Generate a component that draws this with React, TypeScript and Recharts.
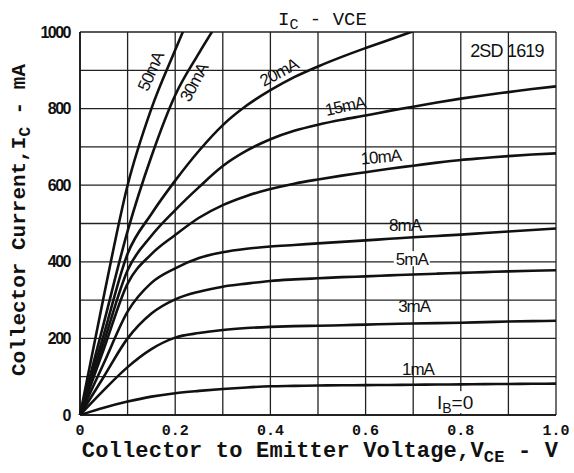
import { LineChart, Line, XAxis, YAxis, CartesianGrid, ReferenceDot } from 'recharts'

// V_CE grid (V)
const vce = [0, 0.05, 0.1, 0.15, 0.2, 0.25, 0.3, 0.35, 0.4, 0.45, 0.5, 0.55, 0.6, 0.65, 0.7, 0.75, 0.8, 0.85, 0.9, 0.95, 1.0]

// I_C (mA) for each base current
const ib1 = [0, 19, 35, 48, 57, 63, 68, 72, 75, 76, 77, 77.5, 78, 78.5, 79, 79.5, 80, 80.5, 81, 81.5, 82]
const ib3 = [0, 65, 125, 172, 202, 214, 222, 227, 230, 232, 233, 234.5, 236, 237.5, 239, 240, 241, 242.5, 244, 245, 246]
const ib5 = [0, 100, 200, 265, 302, 322, 335, 343, 350, 354, 357, 360, 362, 364.5, 367, 369, 371, 373, 375, 376.5, 378]
const ib8 = [0, 135, 270, 345, 383, 410, 425, 434, 440, 444, 448, 452, 456, 460, 464, 467.5, 471, 475, 479, 483, 487]
const ib10 = [0, 172, 343, 420, 470, 515, 548, 572, 590, 604, 615, 625, 634, 643, 651, 659, 666, 671, 676, 680, 683]
const ib15 = [0, 190, 378, 468, 535, 595, 650, 690, 720, 742, 758, 771, 782, 794, 805, 816, 826, 835, 843, 851, 858]
const ib20 = [0, 210, 421, 525, 612, 690, 757, 808, 848, 882, 910, 935, 958, 980, 1002, null, null, null, null, null, null]
const ib30 = [0, 240, 480, 675, 835, 945, 1045, null, null, null, null, null, null, null, null, null, null, null, null, null, null]
const ib50 = [0, 310, 600, 800, 953, 1100, null, null, null, null, null, null, null, null, null, null, null, null, null, null, null]

const series = [
  { key: 'ib1', values: ib1 },
  { key: 'ib3', values: ib3 },
  { key: 'ib5', values: ib5 },
  { key: 'ib8', values: ib8 },
  { key: 'ib10', values: ib10 },
  { key: 'ib15', values: ib15 },
  { key: 'ib20', values: ib20 },
  { key: 'ib30', values: ib30 },
  { key: 'ib50', values: ib50 },
]

const xTicks = [0, 0.1, 0.2, 0.3, 0.4, 0.5, 0.6, 0.7, 0.8, 0.9, 1.0]
const yTicks = [0, 100, 200, 300, 400, 500, 600, 700, 800, 900, 1000]

// curve labels (placed in data coordinates)
const curveLabels = [
  { text: '50mA', x: 0.149, y: 897, angle: -66 },
  { text: '30mA', x: 0.24, y: 868, angle: -62 },
  { text: '20mA', x: 0.418, y: 894, angle: -28 },
  { text: '15mA', x: 0.557, y: 806, angle: -12 },
  { text: '10mA', x: 0.632, y: 673, angle: -5 },
  { text: '8mA', x: 0.683, y: 495, angle: 0 },
  { text: '5mA', x: 0.697, y: 407, angle: 0 },
  { text: '3mA', x: 0.702, y: 284, angle: 0 },
  { text: '1mA', x: 0.71, y: 120, angle: 0 },
]

const data = vce.map((v, i) => {
  const row: Record<string, number | null> = { vce: v }
  series.forEach(s => { row[s.key] = s.values[i] })
  return row
})

const monoFont = '"Liberation Mono", "DejaVu Sans Mono", monospace'
const labelFont = '"Liberation Sans", Arial, sans-serif'

const LabelShape = ({ cx, cy, text, angle }: { cx?: number; cy?: number; text: string; angle: number }) => {
  if (cx == null || cy == null) return null
  return (
    <g>
      {text === '5mA' && <rect x={cx - 18} y={cy - 8} width={36} height={15} fill="#fff" />}
      <text
        x={cx}
        y={cy}
        textAnchor="middle"
        dominantBaseline="central"
        transform={`rotate(${angle} ${cx} ${cy})`}
        fontFamily={labelFont}
        fontSize={17}
        letterSpacing={-1}
        fill="#111"
      >
        {text}
      </text>
    </g>
  )
}

const XTick = ({ x, y, payload }: { x?: number; y?: number; payload?: { value: number } }) => {
  const v = payload?.value ?? 0
  if (Math.round(v * 10) % 2 !== 0) return null
  return (
    <text x={x} y={(y ?? 0) + 12} textAnchor="middle" fontFamily={monoFont} fontWeight="bold" fontSize={15} fill="#111">
      {v === 0 ? '0' : v.toFixed(1)}
    </text>
  )
}

const YTick = ({ x, y, payload }: { x?: number; y?: number; payload?: { value: number } }) => {
  const v = payload?.value ?? 0
  if (v % 200 !== 0) return null
  return (
    <text x={(x ?? 0) - 2} y={y} textAnchor="end" dominantBaseline="central" fontFamily={labelFont} fontWeight="bold" fontSize={16} letterSpacing={-1.5} fill="#111">
      {v}
    </text>
  )
}

export default function App() {
  return (
    <div style={{ position: 'absolute', left: 0, top: 0, width: 574, height: 473, background: '#fff' }}>
      <LineChart width={574} height={473} data={data} margin={{ top: 32, right: 18, bottom: 28, left: 20 }}>
        <CartesianGrid stroke="#222" strokeWidth={1.3} />
        <XAxis
          dataKey="vce"
          type="number"
          domain={[0, 1]}
          ticks={xTicks}
          interval={0}
          tickLine={false}
          axisLine={{ stroke: '#111', strokeWidth: 1.6 }}
          tick={<XTick />}
          height={30}
        />
        <YAxis
          type="number"
          domain={[0, 1000]}
          ticks={yTicks}
          interval={0}
          allowDataOverflow
          tickLine={false}
          axisLine={{ stroke: '#111', strokeWidth: 1.6 }}
          tick={<YTick />}
          width={60}
        />
        {series.map(s => (
          <Line
            key={s.key}
            dataKey={s.key}
            type="monotone"
            stroke="#111"
            strokeWidth={2.6}
            dot={false}
            isAnimationActive={false}
          />
        ))}
        {curveLabels.map(l => (
          <ReferenceDot
            key={l.text}
            x={l.x}
            y={l.y}
            r={0}
            shape={(p: { cx?: number; cy?: number }) => <LabelShape cx={p.cx} cy={p.cy} text={l.text} angle={l.angle} />}
          />
        ))}
        <ReferenceDot
          x={0.788}
          y={31}
          r={0}
          shape={(p: { cx?: number; cy?: number }) => (
            <g>
              <rect x={(p.cx ?? 0) - 26} y={(p.cy ?? 0) - 12} width={52} height={22} fill="#fff" />
              <text x={p.cx} y={(p.cy ?? 0) + 6} textAnchor="middle" fontFamily={labelFont} fontSize={19} fill="#111">
                I<tspan fontSize={14} dy={4}>B</tspan><tspan dy={-4}>=0</tspan>
              </text>
            </g>
          )}
        />
        <ReferenceDot
          x={0.897}
          y={950}
          r={0}
          shape={(p: { cx?: number; cy?: number }) => (
            <text x={p.cx} y={p.cy} textAnchor="middle" dominantBaseline="central" fontFamily={labelFont} fontSize={18} letterSpacing={-0.8} fill="#111">
              2SD 1619
            </text>
          )}
        />
      </LineChart>
      <svg width={574} height={473} style={{ position: 'absolute', left: 0, top: 0, pointerEvents: 'none' }}>
        <text x={278} y={25} fontFamily={monoFont} fontSize={19} fill="#111">
          I<tspan fontSize={15} dy={4}>C</tspan><tspan dy={-4}> - VCE</tspan>
        </text>
        <text x={320} y={457} textAnchor="middle" fontFamily={monoFont} fontWeight="bold" fontSize={22} letterSpacing={0.2} fill="#111">
          Collector to Emitter Voltage,V<tspan fontSize={17} dy={5}>CE</tspan><tspan dy={-5}> - V</tspan>
        </text>
        <text
          x={25}
          y={220}
          textAnchor="middle"
          transform="rotate(-90 25 220)"
          fontFamily={monoFont}
          fontWeight="bold"
          fontSize={21}
          fill="#111"
        >
          Collector Current,I<tspan fontSize={16} dy={5}>C</tspan><tspan dy={-5}> - mA</tspan>
        </text>
      </svg>
    </div>
  )
}
